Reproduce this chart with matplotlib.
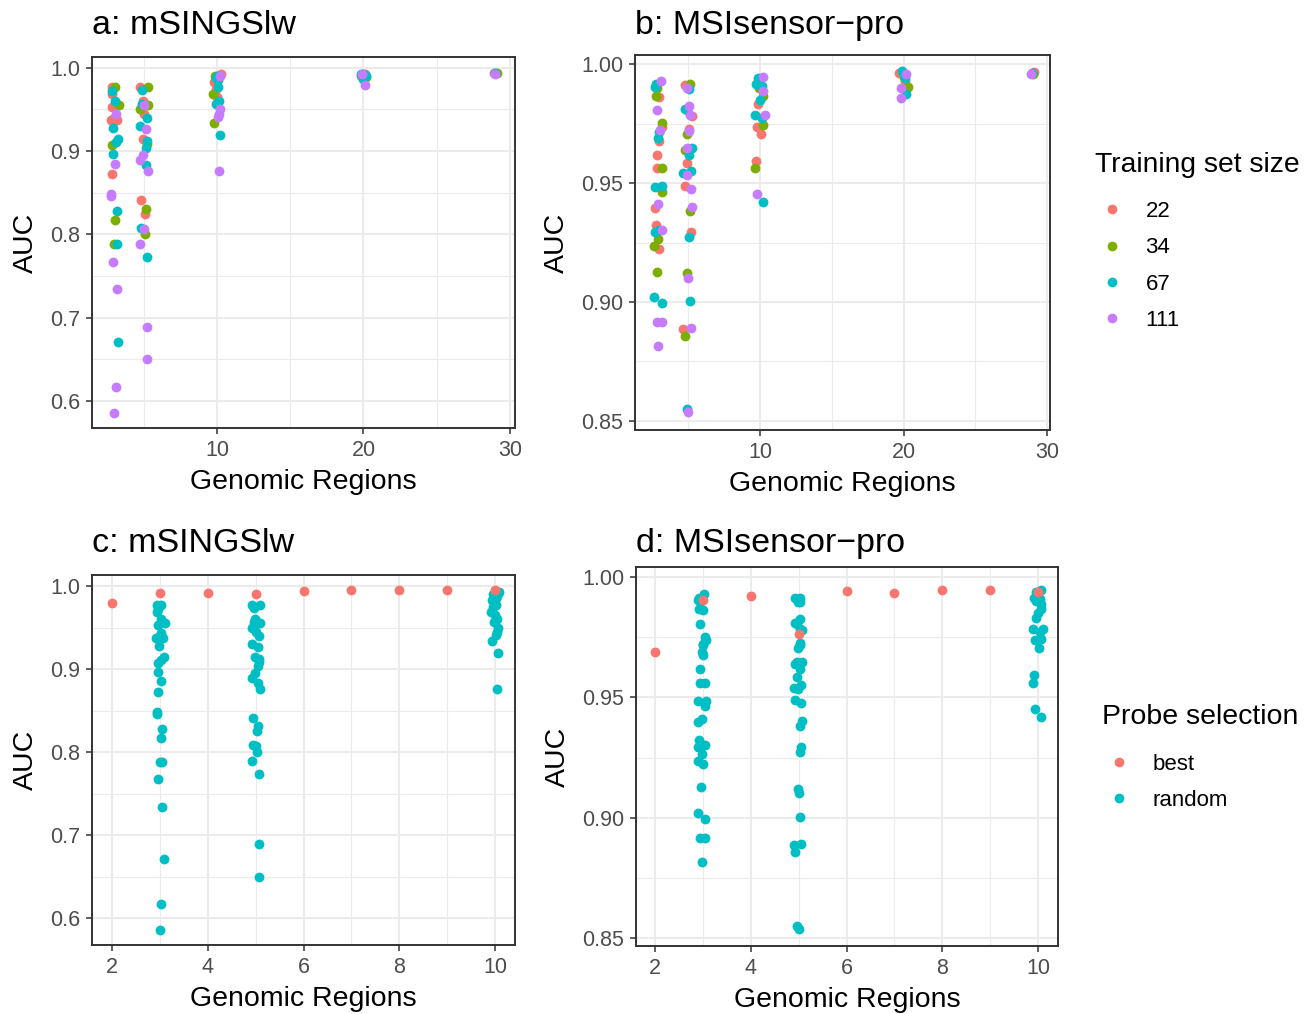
import matplotlib
matplotlib.use("Agg")
import matplotlib.pyplot as plt
from matplotlib.lines import Line2D
from matplotlib.ticker import MultipleLocator, FormatStrFormatter

# donnees (x = nombre de regions avec le jitter, y = AUC)

sizes = ["22", "34", "67", "111"]

# a: mSINGSlw
msings_x_22 = [2.81, 2.81, 2.86, 2.74, 3.20, 2.84, 3.00, 4.74, 4.92, 5.00, 4.97, 4.80, 5.10,
               10.26, 9.80, 9.98, 9.90, 20.10, 19.80, 20.00, 28.90]
msings_auc_22 = [0.977, 0.969, 0.953, 0.937, 0.937, 0.872, 0.940, 0.977, 0.960, 0.945, 0.915, 0.841, 0.825,
                 0.993, 0.983, 0.965, 0.975, 0.992, 0.990, 0.988, 0.994]
msings_x_34 = [3.04, 3.33, 2.84, 3.04, 2.97, 5.31, 5.31, 4.74, 5.20, 5.15, 5.10,
               9.87, 9.71, 9.80, 10.10, 19.90, 20.15, 29.10]
msings_auc_34 = [0.977, 0.955, 0.907, 0.817, 0.788, 0.977, 0.955, 0.950, 0.908, 0.831, 0.800,
                 0.990, 0.969, 0.934, 0.985, 0.991, 0.989, 0.994]
msings_x_67 = [2.86, 3.04, 2.92, 3.26, 3.10, 2.88, 3.15, 3.15, 3.26,
               4.88, 4.88, 5.20, 4.74, 5.25, 5.15, 5.15, 4.80, 5.25,
               9.93, 10.10, 10.10, 10.17, 9.93, 10.20, 10.00,
               19.95, 20.05, 19.85, 20.20, 20.00, 29.00]
msings_auc_67 = [0.972, 0.960, 0.928, 0.914, 0.911, 0.896, 0.828, 0.788, 0.671,
                 0.973, 0.957, 0.940, 0.930, 0.912, 0.904, 0.883, 0.808, 0.773,
                 0.988, 0.986, 0.977, 0.960, 0.957, 0.919, 0.990,
                 0.993, 0.991, 0.992, 0.990, 0.987, 0.994]
msings_x_111 = [3.10, 3.04, 2.77, 2.77, 2.88, 3.15, 3.10, 3.00,
                5.05, 5.15, 4.97, 4.74, 5.28, 5.05, 4.74, 5.25, 5.25,
                10.20, 10.20, 10.10, 10.17, 10.15, 20.10, 19.90, 28.95]
msings_auc_111 = [0.944, 0.885, 0.848, 0.846, 0.767, 0.734, 0.617, 0.586,
                  0.955, 0.927, 0.895, 0.889, 0.876, 0.807, 0.789, 0.689, 0.650,
                  0.990, 0.950, 0.941, 0.876, 0.945, 0.979, 0.992, 0.993]

# b: MSIsensor-pro
msi_x_22 = [2.98, 3.20, 2.98, 2.80, 2.80, 2.68, 2.74, 2.98,
            4.77, 5.24, 5.07, 4.89, 4.77, 5.17, 4.66,
            9.88, 9.77, 10.05, 9.72, 19.70, 20.10, 29.10]
msi_auc_22 = [0.9863, 0.9737, 0.9676, 0.9618, 0.9562, 0.9396, 0.9324, 0.9222,
              0.9912, 0.9782, 0.9727, 0.9583, 0.9489, 0.9296, 0.8887,
              0.9830, 0.9737, 0.9705, 0.9592, 0.9962, 0.9930, 0.9965]
msi_x_34 = [2.80, 2.75, 3.15, 3.15, 3.15, 2.91, 2.62, 2.85,
            5.12, 4.89, 4.94, 4.77, 5.12, 4.94, 4.77,
            10.19, 10.23, 9.65, 9.90, 20.30, 20.00, 29.00]
msi_auc_34 = [0.9898, 0.9867, 0.9751, 0.9562, 0.9464, 0.9265, 0.9237, 0.9127,
              0.9915, 0.9807, 0.9704, 0.9639, 0.9382, 0.9120, 0.8858,
              0.9867, 0.9744, 0.9562, 0.9900, 0.9903, 0.9945, 0.9960]
msi_x_67 = [2.75, 2.68, 2.98, 2.91, 2.68, 3.20, 2.68, 2.98, 2.62, 3.15,
            5.07, 4.77, 5.24, 5.07, 4.66, 5.17, 5.07, 5.12, 4.89,
            9.88, 9.72, 10.12, 9.65, 10.12, 10.23, 10.00,
            20.00, 20.20, 19.90, 20.10, 28.95]
msi_auc_67 = [0.9915, 0.9905, 0.9716, 0.9690, 0.9485, 0.9487, 0.9296, 0.9303, 0.9020, 0.8995,
              0.9895, 0.9811, 0.9648, 0.9618, 0.9541, 0.9550, 0.9274, 0.9004, 0.8550,
              0.9940, 0.9915, 0.9909, 0.9786, 0.9772, 0.9419, 0.9850,
              0.9955, 0.9874, 0.9970, 0.9940, 0.9962]
msi_x_111 = [3.08, 2.80, 3.03, 2.91, 3.15, 2.80, 3.15, 2.91,
             4.94, 5.07, 5.12, 5.07, 4.89, 4.94, 5.17, 5.24, 5.00, 5.17, 5.00,
             10.23, 10.19, 10.35, 9.80, 19.80, 19.80, 20.20, 28.90]
msi_auc_111 = [0.9929, 0.9807, 0.9723, 0.9410, 0.9303, 0.8915, 0.8915, 0.8815,
               0.9898, 0.9825, 0.9786, 0.9718, 0.9646, 0.9534, 0.9475, 0.9400, 0.9102, 0.8892, 0.8537,
               0.9946, 0.9887, 0.9786, 0.9452, 0.9900, 0.9857, 0.9960, 0.9958]

# c / d: meilleures sondes
best_regions = [2, 3, 4, 5, 6, 7, 8, 9, 10]
msings_best_auc = [0.979, 0.992, 0.992, 0.991, 0.994, 0.995, 0.995, 0.995, 0.995]
msi_best_auc = [0.969, 0.9904, 0.9922, 0.9763, 0.9942, 0.9935, 0.9946, 0.9946, 0.9939]
random_regions = [3, 5, 10]

msings_x = [msings_x_22, msings_x_34, msings_x_67, msings_x_111]
msings_auc = [msings_auc_22, msings_auc_34, msings_auc_67, msings_auc_111]
msi_x = [msi_x_22, msi_x_34, msi_x_67, msi_x_111]
msi_auc = [msi_auc_22, msi_auc_34, msi_auc_67, msi_auc_111]

# couleurs ggplot
hue4 = ["#F8766D", "#7CAE00", "#00BFC4", "#C77CFF"]
hue2 = ["#F8766D", "#00BFC4"]

plt.rcParams['font.family'] = ['Liberation Sans', 'DejaVu Sans']

W, H = 1316, 1014
fig = plt.figure(figsize=(W / 100, H / 100), dpi=100)


def add_ax(l, t, r, b):
    return fig.add_axes([l / W, 1 - b / H, (r - l) / W, (b - t) / H])


def style(ax, xlim, ylim, xmaj, xmin, ymaj, ymin, yfmt):
    ax.set_xlim(xlim)
    ax.set_ylim(ylim)
    ax.xaxis.set_major_locator(MultipleLocator(xmaj))
    ax.xaxis.set_minor_locator(MultipleLocator(xmin))
    ax.yaxis.set_major_locator(MultipleLocator(ymaj))
    ax.yaxis.set_minor_locator(MultipleLocator(ymin))
    ax.yaxis.set_major_formatter(FormatStrFormatter(yfmt))
    ax.grid(which='major', color='#EBEBEB', lw=1.5)
    ax.grid(which='minor', color='#EBEBEB', lw=0.8)
    ax.set_axisbelow(True)
    for s in ax.spines.values():
        s.set_color('#333333')
        s.set_linewidth(1.4)
    ax.tick_params(which='major', length=4.5, width=1.1, color='#333333',
                   labelcolor='#4D4D4D', labelsize=15.5, pad=4)
    ax.tick_params(which='minor', length=0)
    ax.set_xlabel("Genomic Regions", fontsize=20.5, labelpad=6)
    ax.set_ylabel("AUC", fontsize=20.5, labelpad=8)


def nearest(x, bases):
    return min(bases, key=lambda b: abs(b - x))


# panneaux du haut
ax_a = add_ax(92, 57, 515, 428)
ax_b = add_ax(635, 55, 1050, 430)
for ax, xs, ys in [(ax_a, msings_x, msings_auc), (ax_b, msi_x, msi_auc)]:
    for i in range(4):
        ax.scatter(xs[i], ys[i], s=50, color=hue4[i], linewidths=0, zorder=3)

style(ax_a, (1.47, 30.34), (0.5676, 1.013), 10, 5, 0.1, 0.05, '%.1f')
style(ax_b, (1.29, 30.2), (0.8462, 1.0038), 10, 5, 0.05, 0.025, '%.2f')

# panneaux du bas: meme AUC aleatoires que en haut pour 3, 5 et 10 regions
ax_c = add_ax(92, 575, 515, 945)
ax_d = add_ax(636, 567, 1058, 946)
for ax, xs, ys, best in [(ax_c, msings_x, msings_auc, msings_best_auc),
                         (ax_d, msi_x, msi_auc, msi_best_auc)]:
    ax.scatter(best_regions, best, s=50, color=hue2[0], linewidths=0, zorder=4)
    rx, ry = [], []
    for i in range(4):
        for x, y in zip(xs[i], ys[i]):
            base = nearest(x, [3, 5, 10, 20, 29])
            if base in random_regions:
                # le jitter est plus etroit sur cette echelle
                rx.append(base + (x - base) * 0.3)
                ry.append(y)
    ax.scatter(rx, ry, s=50, color=hue2[1], linewidths=0, zorder=3)

style(ax_c, (1.58, 10.42), (0.5675, 1.0133), 2, 1, 0.1, 0.05, '%.1f')
style(ax_d, (1.60, 10.42), (0.8467, 1.0042), 2, 1, 0.05, 0.025, '%.2f')

# titres alignes par ligne
fig.text(92 / W, 1 - 34 / H, "a: mSINGSlw", fontsize=24.5, va='baseline')
fig.text(635 / W, 1 - 34 / H, "b: MSIsensor\u2212pro", fontsize=24.5, va='baseline')
fig.text(92 / W, 1 - 552 / H, "c: mSINGSlw", fontsize=24.5, va='baseline')
fig.text(636 / W, 1 - 552 / H, "d: MSIsensor\u2212pro", fontsize=24.5, va='baseline')

# legendes
fig.text(1095 / W, 1 - 165 / H, "Training set size", fontsize=20.3, va='center')
h4 = [Line2D([], [], ls='', marker='o', ms=7, mew=0, color=c) for c in hue4]
fig.legend(h4, sizes, loc='center left', bbox_to_anchor=(1079 / W, 1 - 266 / H),
           frameon=False, fontsize=16, handletextpad=0.89, labelspacing=0.69,
           handlelength=1.2)

fig.text(1102 / W, 1 - 717 / H, "Probe selection", fontsize=20.5, va='center')
h2 = [Line2D([], [], ls='', marker='o', ms=7, mew=0, color=c) for c in hue2]
fig.legend(h2, ["best", "random"], loc='center left', bbox_to_anchor=(1086 / W, 1 - 782.5 / H),
           frameon=False, fontsize=16, handletextpad=0.89, labelspacing=0.68,
           handlelength=1.2)

fig.savefig("out.png", dpi=100)
